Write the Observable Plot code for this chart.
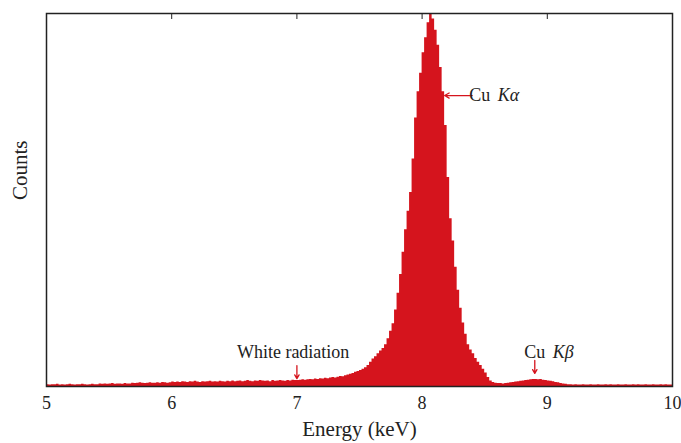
<!DOCTYPE html>
<html>
<head>
<meta charset="utf-8">
<script src="https://cdn.jsdelivr.net/npm/d3@7"></script>
<script src="https://cdn.jsdelivr.net/npm/@observablehq/plot@0.6"></script>
<style>
  html, body { margin: 0; padding: 0; background: #fff; }
  #chart svg { display: block; }
</style>
</head>
<body>
<div id="chart"></div>
<script>
// X-ray emission spectrum of a copper target, 5–10 keV, binned at 0.02 keV.
const binStart = 5.0;
const binWidth = 0.02;
const counts = [
  // 5.00 – 5.40
  5,4,5,5,6,4,5,4,5,6,5,4,5,5,6,5,4,5,6,5,5,
  // 5.42 – 5.66
  7,6,7,6,7,8,6,7,7,6,8,7,7,
  // 5.68 – 5.98
  9,8,9,10,9,8,9,10,9,9,10,9,11,10,9,10,
  // 6.00 – 6.48
  12,11,12,11,13,12,11,13,12,14,12,11,13,12,13,14,12,13,12,14,13,12,14,13,15,
  // 6.50 – 6.98
  13,14,15,13,14,16,14,13,15,14,16,15,14,15,13,16,14,15,16,15,14,16,15,17,16,
  // 7.00 – 7.18
  16,17,18,17,18,19,18,20,19,21,
  // 7.20 – 7.38
  20,22,21,23,24,23,25,27,26,29,
  // 7.40 – 7.48
  31,33,35,38,40,
  // 7.50 – 7.98 (rising flank of Cu Kα)
  43,46,50,56,65,74,80,88,95,102,112,128,148,168,205,250,300,360,420,470,520,610,720,790,840,
  // 8.00 – 8.58 (peak and falling flank)
  895,935,975,1000,985,955,915,855,790,700,560,450,390,320,258,210,170,140,112,98,88,75,65,56,46,36,24,15,11,9,
  // 8.60 – 9.18 (Cu Kβ)
  8,8,7,8,9,10,11,12,13,14,15,16,17,18,19,19,18,19,17,16,15,14,13,11,10,8,7,6,5,5,
  // 9.20 – 9.98
  4,5,4,4,5,4,4,5,4,4,5,4,4,5,4,5,4,4,5,4,4,5,4,4,5,4,5,4,4,5,4,4,5,4,4,5,4,5,4,4
];

// Energy tick values
const xTicks = [5, 6, 7, 8, 9, 10];
const topTicks = [6, 7, 8, 9];

// Line labels and their arrows
const lineLabels = [
  {text: "White radiation", x: 6.97, y: 91, anchor: "end"},
  {text: "Cu", x: 8.46, y: 781, anchor: "start"},
  {text: "Cu", x: 8.90, y: 91, anchor: "start"}
];
const lineSymbols = [
  {text: "Kα", x: 8.46, y: 781},
  {text: "Kβ", x: 8.90, y: 91}
];
const arrows = [
  {x1: 7.0, y1: 56, x2: 7.0, y2: 21},
  {x1: 8.9, y1: 70, x2: 8.9, y2: 35},
  {x1: 8.40, y1: 780, x2: 8.18, y2: 780}
];

const red = "#d5141d";

// Step outline: each bin starts at its left edge; the last bin closes at 10 keV
const spectrum = counts.map((c, i) => ({energy: binStart + i * binWidth, count: c}));
spectrum.push({energy: binStart + counts.length * binWidth, count: counts[counts.length - 1]});

const chart = Plot.plot({
  width: 681,
  height: 443,
  marginLeft: 46,
  marginRight: 9,
  marginTop: 13,
  marginBottom: 57,
  style: {fontFamily: "'Liberation Serif', 'Times New Roman', serif", fontSize: "18px", color: "#222", background: "#fff"},
  x: {domain: [5, 10]},
  y: {domain: [0, 1000]},
  marks: [
    Plot.areaY(spectrum, {x: "energy", y: "count", curve: "step-after", fill: red}),
    Plot.frame({stroke: "#222", strokeWidth: 1.5}),
    Plot.axisX({anchor: "bottom", ticks: xTicks, tickSize: 0, tickPadding: 10, fontSize: 18, tickFormat: d3.format("d"), label: null}),
    Plot.axisX({anchor: "top", ticks: topTicks, tickSize: -5, tickFormat: () => "", label: null, stroke: "#222"}),
    Plot.axisY({ticks: [], label: null}),
    Plot.text(["Energy (keV)"], {frameAnchor: "bottom", lineAnchor: "middle", dy: 43, fontSize: 21}),
    Plot.text(["Counts"], {frameAnchor: "left", dx: -26, rotate: -90, fontSize: 21}),
    Plot.arrow(arrows, {x1: "x1", y1: "y1", x2: "x2", y2: "y2", stroke: red, strokeWidth: 1.3, headLength: 6}),
    Plot.text(lineLabels, {x: "x", y: "y", text: "text", textAnchor: "anchor", fontSize: 18, fill: "#222"}),
    Plot.text(lineSymbols, {x: "x", y: "y", text: "text", textAnchor: "start", dx: 18, fontSize: 18, fontStyle: "italic", fill: "#222"})
  ]
});

document.getElementById("chart").appendChild(chart);
</script>
</body>
</html>
